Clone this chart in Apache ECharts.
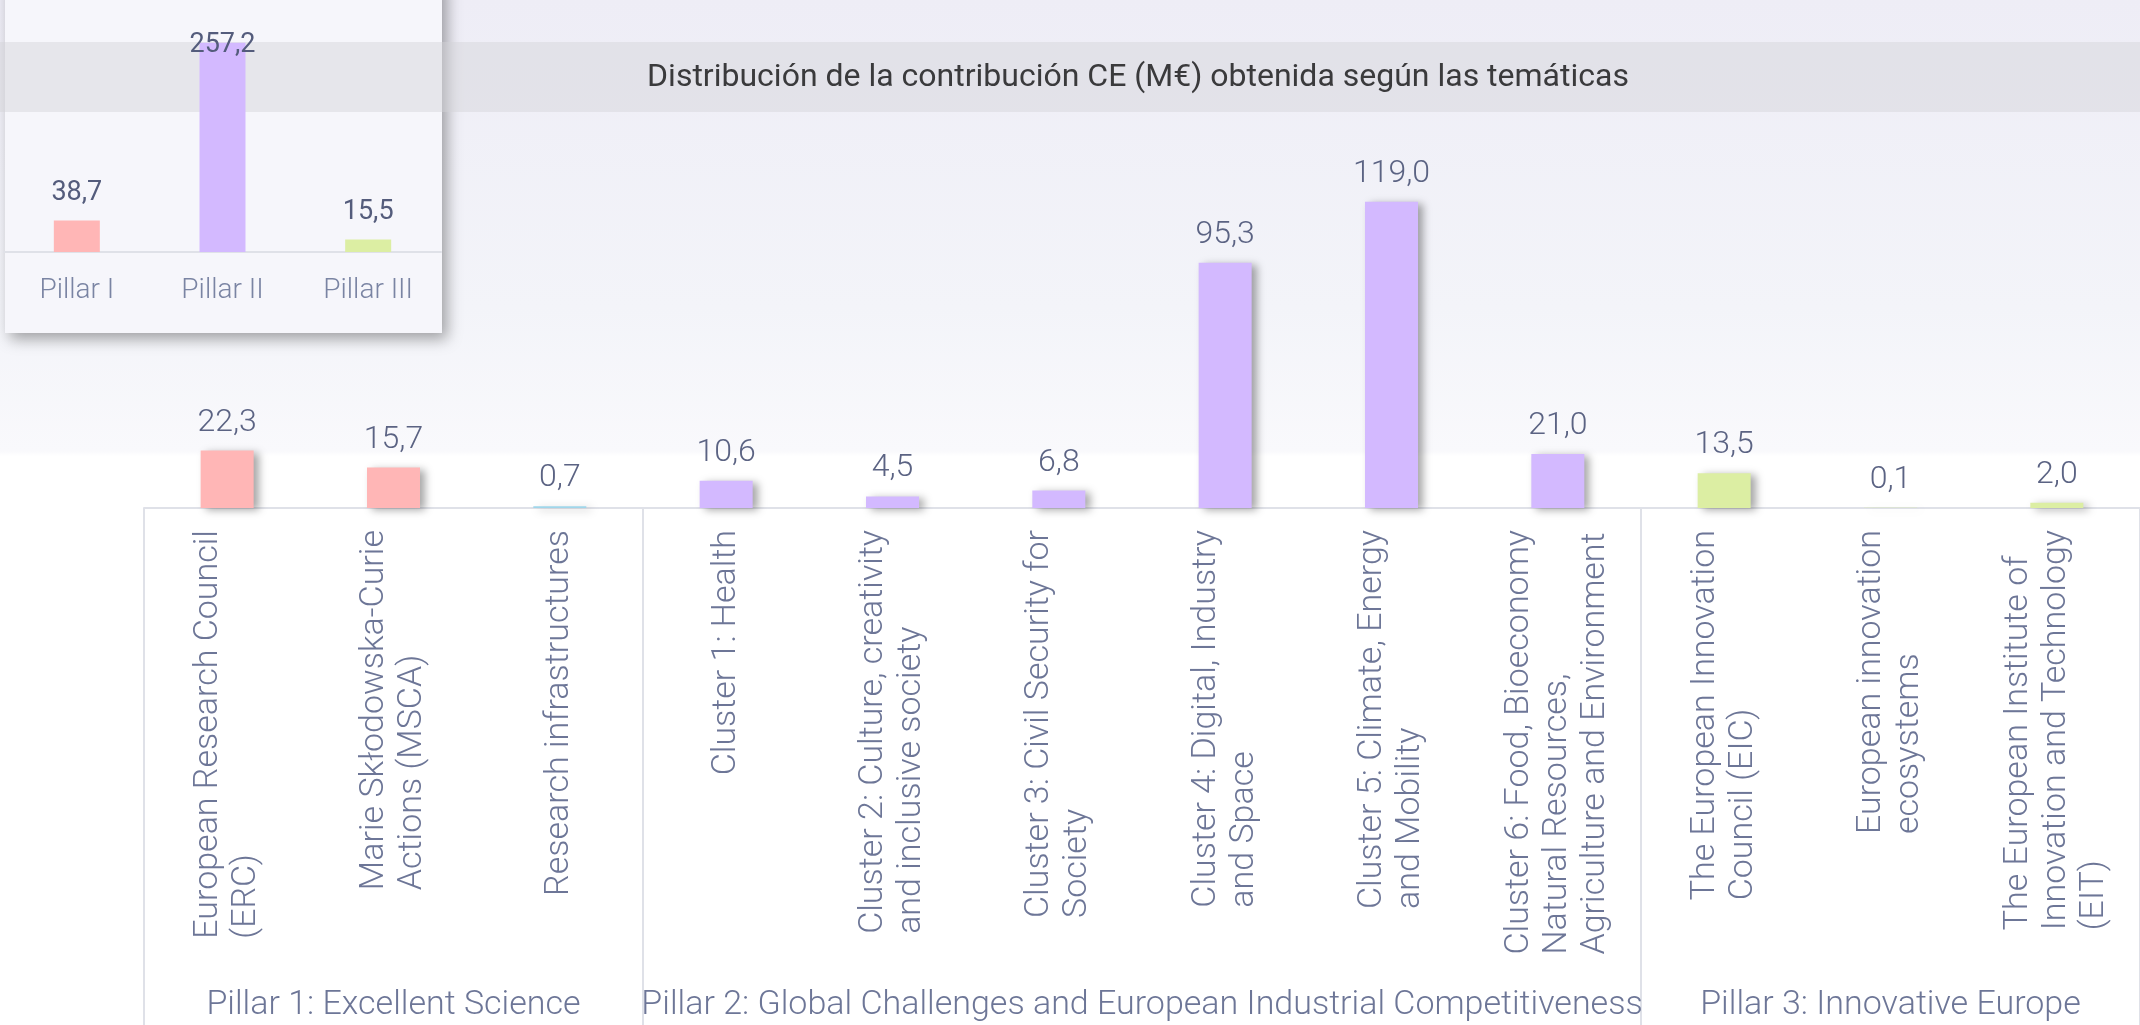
<!DOCTYPE html>
<html>
<head>
<meta charset="utf-8">
<title>Distribución de la contribución CE</title>
<script src="https://cdn.jsdelivr.net/npm/echarts@6.0.0/dist/echarts.min.js"></script>
<style>
  html, body { margin: 0; padding: 0; background: #ffffff; }
  #chart { width: 2140px; height: 1025px; }
</style>
</head>
<body>
<div id="chart"></div>
<script>
// temáticas del gráfico principal
const categories = [
  'European Research Council\n(ERC)',
  'Marie Skłodowska-Curie\nActions (MSCA)',
  'Research infrastructures',
  'Cluster 1: Health',
  'Cluster 2: Culture, creativity\nand inclusive society',
  'Cluster 3: Civil Security for\nSociety',
  'Cluster 4: Digital, Industry\nand Space',
  'Cluster 5: Climate, Energy\nand Mobility',
  'Cluster 6: Food, Bioeconomy\nNatural Resources,\nAgriculture and Environment',
  'The European Innovation\nCouncil (EIC)',
  'European innovation\necosystems',
  'The European Institute of\nInnovation and Technology\n(EIT)'
];
const contribution = [22.3, 15.7, 0.7, 10.6, 4.5, 6.8, 95.3, 119.0, 21.0, 13.5, 0.1, 2.0];

// pilares bajo el eje (número de temáticas de cada uno)
const groupNames = [
  'Pillar 1: Excellent Science',
  'Pillar 2: Global Challenges and European Industrial Competitiveness',
  'Pillar 3: Innovative Europe'
];
const groupSizes = [3, 6, 3];

// recuadro resumen por pilar
const pillarNames = ['Pillar I', 'Pillar II', 'Pillar III'];
const pillarTotals = [38.7, 257.2, 15.5];

const PINK = '#ffb6b6', PURPLE = '#d3b9ff', GREEN = '#dceea3', BLUE = '#9fd6ea';
const barColors = [PINK, PINK, BLUE, PURPLE, PURPLE, PURPLE, PURPLE, PURPLE, PURPLE, GREEN, GREEN, GREEN];
const pillarColors = [PINK, PURPLE, GREEN];

const FONT = 'Roboto';
const fmt = v => v.toFixed(1).replace('.', ',');

// límites y centros de cada pilar en unidades de categoría
const bounds = [0];
groupSizes.forEach(n => bounds.push(bounds[bounds.length - 1] + n));
const centers = groupSizes.map((n, i) => bounds[i] + n / 2);

const chart = echarts.init(document.getElementById('chart'));

chart.setOption({
  animation: false,
  backgroundColor: {
    type: 'linear', x: 0, y: 0, x2: 0, y2: 1,
    colorStops: [
      { offset: 0, color: '#eeedf6' },
      { offset: 0.3, color: '#f3f4f9' },
      { offset: 0.44, color: '#f9f9fc' },
      { offset: 0.445, color: '#ffffff' },
      { offset: 1, color: '#ffffff' }
    ]
  },
  graphic: [
    {
      type: 'rect', z: 0,
      shape: { x: 5, y: -20, width: 437, height: 353 },
      style: { fill: '#f6f6fb', shadowBlur: 14, shadowOffsetX: 5, shadowOffsetY: 6, shadowColor: 'rgba(0,0,0,0.35)' }
    },
    {
      type: 'rect', z: 1,
      shape: { x: 0, y: 42, width: 2140, height: 70 },
      style: { fill: 'rgba(210,210,214,0.45)' }
    },
    {
      type: 'text', z: 10,
      x: 1138, y: 78,
      style: {
        text: 'Distribución de la contribución CE (M€) obtenida según las temáticas',
        align: 'center', verticalAlign: 'middle',
        fontSize: 32, fontFamily: FONT, fontWeight: 400, fill: '#3a3a3c'
      }
    }
  ],
  grid: [
    { left: 144, right: 0, top: 122, bottom: 517 },
    { left: 4, width: 437, top: 8, bottom: 773 }
  ],
  xAxis: [
    {
      gridIndex: 0, type: 'category', data: categories, z: 3,
      axisLine: { lineStyle: { color: '#dfe1e8', width: 2 } },
      axisTick: { show: false },
      axisLabel: {
        interval: 0, rotate: 90, margin: 22,
        formatter: v => v.split('\n').map(s => '{t|' + s + '}').join('\n'),
        rich: { t: { align: 'left', fontSize: 34, lineHeight: 38, fontFamily: FONT, fontWeight: 300, color: '#6d7697' } }
      }
    },
    {
      gridIndex: 0, type: 'value', min: 0, max: bounds[bounds.length - 1],
      position: 'bottom', offset: 517, z: 3,
      axisLine: { show: false },
      splitLine: { show: false },
      axisTick: {
        show: true, inside: true, length: 517, customValues: bounds,
        lineStyle: { color: '#dfe1e8', width: 2 }
      },
      axisLabel: {
        inside: true, margin: 3, customValues: centers,
        formatter: v => groupNames[centers.indexOf(v)] || '',
        fontSize: 34, fontFamily: FONT, fontWeight: 300, color: '#6d7697'
      }
    },
    {
      gridIndex: 1, type: 'category', data: pillarNames, z: 3,
      axisLine: { lineStyle: { color: '#dfe1e8', width: 2 } },
      axisTick: { show: false },
      axisLabel: { margin: 25, fontSize: 28, fontFamily: FONT, fontWeight: 300, color: '#7a84a3' }
    }
  ],
  yAxis: [
    { gridIndex: 0, type: 'value', min: 0, max: 150, show: false },
    { gridIndex: 1, type: 'value', min: 0, max: 300, show: false }
  ],
  series: [
    {
      type: 'bar', xAxisIndex: 0, yAxisIndex: 0, z: 4,
      barWidth: 53,
      data: contribution.map((v, i) => ({ value: v, itemStyle: { color: barColors[i] } })),
      itemStyle: { shadowColor: 'rgba(0,0,0,0.35)', shadowBlur: 8, shadowOffsetX: 5, shadowOffsetY: 2 },
      label: {
        show: true, position: 'top', distance: 12,
        formatter: p => fmt(p.value),
        fontSize: 32, fontFamily: FONT, fontWeight: 300, color: '#5b6383'
      }
    },
    {
      type: 'bar', xAxisIndex: 2, yAxisIndex: 1, z: 4,
      barWidth: 46,
      data: pillarTotals.map((v, i) => {
        const item = { value: v, itemStyle: { color: pillarColors[i] } };
        if (v === Math.max(...pillarTotals)) item.label = { offset: [0, 30] };
        return item;
      }),
      label: {
        show: true, position: 'top', distance: 14,
        formatter: p => fmt(p.value),
        fontSize: 27, fontFamily: FONT, fontWeight: 400, color: '#545c7c'
      }
    }
  ]
});
</script>
</body>
</html>
